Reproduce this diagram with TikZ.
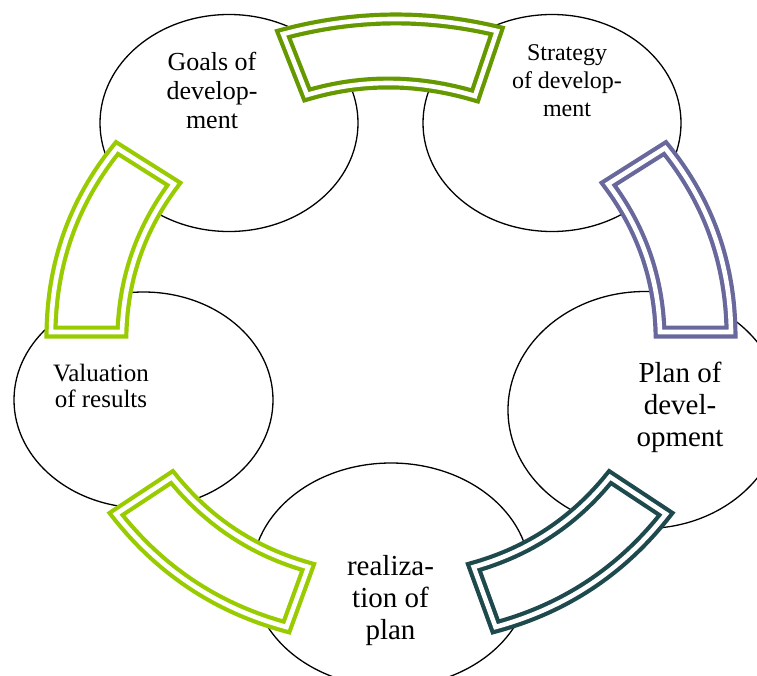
\documentclass[tikz,border=0pt]{standalone}
\usepackage{fontspec}
\setmainfont{Liberation Serif}
\usetikzlibrary{shapes.geometric,calc}
\definecolor{topgreen}{RGB}{102,153,0}
\definecolor{lightgreen}{RGB}{153,204,0}
\definecolor{bandpurple}{RGB}{104,104,156}
\definecolor{bandteal}{RGB}{31,74,77}
\newcommand{\arcband}[7]{%
  \draw[#1] (#2) .. controls ($(#2)!2/3!(#3)$) and ($(#4)!2/3!(#3)$) .. (#4)
    -- (#5) .. controls ($(#5)!2/3!(#6)$) and ($(#7)!2/3!(#6)$) .. (#7) -- cycle;}
\tikzset{
  stage/.style={ellipse, draw=black, line width=1.3pt, fill=white, inner sep=0pt, outer sep=0pt},
  label/.style={align=center, inner sep=0pt, text=black},
  band/.style={line width=4.2pt, double=white, double distance=4.6pt, fill=white, line join=miter}
}
\begin{document}
\begin{tikzpicture}[x=1pt,y=-1pt]
\useasboundingbox (0,0) rectangle (757,675);
\clip (0,0) rectangle (757,675);
\fill[white] (0,0) rectangle (757,675);
% stages
\node[stage, minimum width=258pt, minimum height=217pt] (goals) at (229,123) {};
\node[stage, minimum width=258pt, minimum height=217pt] (strategy) at (552,123) {};
\node[stage, minimum width=274pt, minimum height=237pt] (plan) at (645,410) {};
\node[stage, minimum width=278pt, minimum height=224pt] (real) at (391,575) {};
\node[stage, minimum width=259pt, minimum height=216pt] (valuation) at (143.5,400) {};
% labels
\node[label, font=\fontsize{26}{29}\selectfont] (tgoals) at (212,90) {Goals of\\develop-\\ment};
\node[label, font=\fontsize{24}{28}\selectfont] (tstrategy) at (567,81) {Strategy\\of develop-\\ment};
\node[label, font=\fontsize{29}{32}\selectfont] (tplan) at (680,407) {Plan of\\devel-\\opment};
\node[label, font=\fontsize{29}{32}\selectfont] (treal) at (390.5,601) {realiza-\\tion of\\plan};
\node[label, font=\fontsize{25}{26.5}\selectfont] (tvaluation) at (101,386) {Valuation\\of results};
% bands
\arcband{band,draw=topgreen}{283,34}{390,5.5}{497,31}{475,96}{389,70.5}{307,95}
\arcband{band,draw=bandpurple}{665,148}{729.6,227.6}{731,332}{660,332}{657.5,250}{608,184}
\arcband{band,draw=bandteal}{666,514}{599.45,598.9}{495.5,627}{473.7,567}{556.15,543.8}{610,477}
\arcband{band,draw=lightgreen}{116,514}{182.55,598.9}{286.5,627}{308.3,567}{225.85,543.8}{172,477}
\arcband{band,draw=lightgreen}{117,148}{52.4,227.6}{51,332}{122,332}{124.5,250}{174,184}
\end{tikzpicture}
\end{document}
